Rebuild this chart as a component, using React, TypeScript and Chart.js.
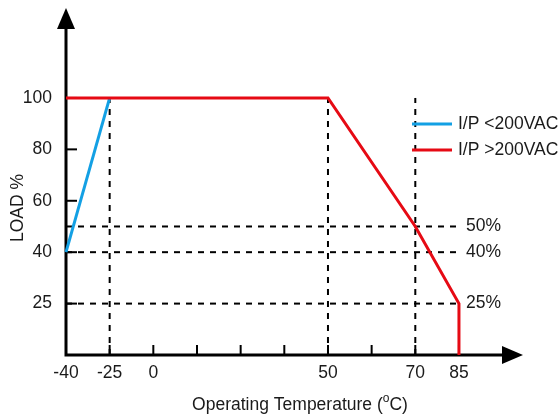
import React, { useEffect, useRef } from 'react';
import { Chart, registerables, LinearScale } from 'chart.js';

// ---- data ----
const xTickValues = [-40, -25, 0, 50, 70, 85];
const xTickMarks = [-25, 0, 12.5, 25, 37.5, 50, 60, 70, 85];
const yTickValues = [25, 40, 60, 80, 100];
// equally spaced slots on each (non-linear) axis of the schematic
const xBreaks = [-40, -25, 0, 12.5, 25, 37.5, 50, 60, 70, 85, 100];
const yBreaks = [0, 25, 40, 60, 80, 100, 120];

const lowTemp = [-40, -25];
const lowLoad = [40, 100];
const highTemp = [-40, 50, 70, 85, 85];
const highLoad = [100, 100, 50, 25, 0];

const vGuides = [-25, 50, 70];
const hGuides = [50, 40, 25];
const guideLabels = ['50%', '40%', '25%'];
const seriesNames = ['I/P <200VAC', 'I/P >200VAC'];
const seriesColors = ['#13A0E4', '#E60A14'];

const FONT = '"Liberation Sans", Arial, sans-serif';
const FS = 17.5;
const TEXT = '#1a1a1a';

const BREAKS: Record<string, number[]> = { x: xBreaks, y: yBreaks };

function toSlot(v: number, b: number[]): number {
  if (v <= b[0]) return (v - b[0]) / (b[1] - b[0]);
  for (let i = 0; i < b.length - 1; i++) {
    if (v <= b[i + 1]) return i + (v - b[i]) / (b[i + 1] - b[i]);
  }
  const n = b.length - 1;
  return n + (v - b[n]) / (b[n] - b[n - 1]);
}
function fromSlot(s: number, b: number[]): number {
  const n = b.length - 1;
  if (s <= 0) return b[0] + s * (b[1] - b[0]);
  if (s >= n) return b[n] + (s - n) * (b[n] - b[n - 1]);
  const i = Math.floor(s);
  return b[i] + (s - i) * (b[i + 1] - b[i]);
}

class PiecewiseScale extends LinearScale {
  static id = 'piecewise';
  static defaults = LinearScale.defaults;
  getPixelForValue(value: number) {
    const self: any = this;
    const b = BREAKS[self.axis];
    const s0 = toSlot(self.min, b);
    const s1 = toSlot(self.max, b);
    return self.getPixelForDecimal((toSlot(value, b) - s0) / (s1 - s0));
  }
  getValueForPixel(pixel: number) {
    const self: any = this;
    const b = BREAKS[self.axis];
    const s0 = toSlot(self.min, b);
    const s1 = toSlot(self.max, b);
    return fromSlot(s0 + self.getDecimalForPixel(pixel) * (s1 - s0), b);
  }
}

Chart.register(...registerables, PiecewiseScale as any);

const decor = {
  id: 'decor',
  beforeDatasetsDraw(chart: any) {
    const { ctx, scales } = chart;
    const xs = scales.x;
    const ys = scales.y;
    const X = (v: number) => xs.getPixelForValue(v);
    const Y = (v: number) => ys.getPixelForValue(v);
    const x0 = X(-40);
    const y0 = Y(0);
    ctx.save();
    ctx.strokeStyle = '#000';
    ctx.lineWidth = 2;
    ctx.setLineDash([6, 6]);
    vGuides.forEach((v) => {
      ctx.beginPath();
      ctx.moveTo(X(v), y0);
      ctx.lineTo(X(v), Y(100));
      ctx.stroke();
    });
    hGuides.forEach((v) => {
      ctx.beginPath();
      ctx.moveTo(x0, Y(v));
      ctx.lineTo(X(85), Y(v));
      ctx.stroke();
    });
    ctx.setLineDash([]);
    // tick marks
    ctx.lineWidth = 2;
    yTickValues.forEach((v) => {
      ctx.beginPath();
      ctx.moveTo(x0, Y(v));
      ctx.lineTo(x0 + 11, Y(v));
      ctx.stroke();
    });
    xTickMarks.forEach((v) => {
      ctx.beginPath();
      ctx.moveTo(X(v), y0);
      ctx.lineTo(X(v), y0 - 10);
      ctx.stroke();
    });
    // axes
    ctx.lineWidth = 3;
    ctx.beginPath();
    ctx.moveTo(x0, y0 + 1.5);
    ctx.lineTo(x0, ys.top + 18);
    ctx.moveTo(x0 - 1.5, y0);
    ctx.lineTo(xs.right - 18, y0);
    ctx.stroke();
    ctx.fillStyle = '#000';
    ctx.beginPath();
    ctx.moveTo(x0, ys.top);
    ctx.lineTo(x0 + 9, ys.top + 21);
    ctx.lineTo(x0 - 9, ys.top + 21);
    ctx.closePath();
    ctx.fill();
    ctx.beginPath();
    ctx.moveTo(xs.right, y0);
    ctx.lineTo(xs.right - 21, y0 - 9);
    ctx.lineTo(xs.right - 21, y0 + 9);
    ctx.closePath();
    ctx.fill();
    ctx.restore();
  },
  afterDraw(chart: any) {
    const { ctx, scales } = chart;
    const xs = scales.x;
    const ys = scales.y;
    const X = (v: number) => xs.getPixelForValue(v);
    const Y = (v: number) => ys.getPixelForValue(v);
    ctx.save();
    ctx.fillStyle = TEXT;
    ctx.font = `${FS}px ${FONT}`;
    ctx.textBaseline = 'middle';
    ctx.textAlign = 'left';
    hGuides.forEach((v, i) => {
      ctx.fillText(guideLabels[i], X(85) + 7, Y(v));
    });
    // legend
    const legY = [124, 150];
    seriesNames.forEach((name, i) => {
      ctx.strokeStyle = seriesColors[i];
      ctx.lineWidth = 3;
      ctx.beginPath();
      ctx.moveTo(412, legY[i]);
      ctx.lineTo(452, legY[i]);
      ctx.stroke();
      ctx.fillStyle = TEXT;
      ctx.fillText(name, 458, legY[i]);
    });
    // y title
    ctx.save();
    ctx.translate(18, 208);
    ctx.rotate(-Math.PI / 2);
    ctx.textAlign = 'center';
    ctx.fillText('LOAD %', 0, 0);
    ctx.restore();
    // x title with superscript o
    const p1 = 'Operating Temperature (';
    const sup = 'o';
    const p2 = 'C)';
    ctx.font = `${FS}px ${FONT}`;
    const w1 = ctx.measureText(p1).width;
    const w3 = ctx.measureText(p2).width;
    ctx.font = `12px ${FONT}`;
    const w2 = ctx.measureText(sup).width;
    const total = w1 + w2 + w3;
    let sx = 300 - total / 2;
    const ty = 405;
    ctx.textAlign = 'left';
    ctx.font = `${FS}px ${FONT}`;
    ctx.fillText(p1, sx, ty);
    sx += w1;
    ctx.font = `12px ${FONT}`;
    ctx.fillText(sup, sx, ty - 6);
    sx += w2;
    ctx.font = `${FS}px ${FONT}`;
    ctx.fillText(p2, sx, ty);
    ctx.restore();
  },
};

export default function App() {
  const ref = useRef<HTMLCanvasElement | null>(null);
  useEffect(() => {
    if (!ref.current) return;
    const chart = new Chart(ref.current, {
      type: 'line',
      data: {
        datasets: [
          {
            label: seriesNames[0],
            data: lowTemp.map((t, i) => ({ x: t, y: lowLoad[i] })),
            borderColor: seriesColors[0],
            borderWidth: 3,
            pointRadius: 0,
            tension: 0,
            fill: false,
            clip: false as any,
            order: 2,
          },
          {
            label: seriesNames[1],
            data: highTemp.map((t, i) => ({ x: t, y: highLoad[i] })),
            borderColor: seriesColors[1],
            borderWidth: 3,
            pointRadius: 0,
            tension: 0,
            fill: false,
            clip: false as any,
            order: 1,
          },
        ],
      },
      options: {
        animation: false,
        responsive: false,
        layout: { padding: { top: 8, right: 36, left: 0, bottom: 0 } },
        plugins: { legend: { display: false }, tooltip: { enabled: false } },
        events: [],
        scales: {
          x: {
            type: 'piecewise' as any,
            min: -40,
            max: 107,
            border: { display: false },
            grid: { display: false, drawTicks: false },
            afterBuildTicks: (s: any) => {
              s.ticks = xTickValues.map((v) => ({ value: v }));
            },
            afterFit: (s: any) => {
              s.height = 62;
              s.paddingLeft = 0;
              s.paddingRight = 0;
            },
            ticks: {
              autoSkip: false,
              maxRotation: 0,
              color: TEXT,
              padding: 8,
              font: { size: FS, family: FONT },
              callback: (v: any) => String(v),
            },
          } as any,
          y: {
            type: 'piecewise' as any,
            min: 0,
            max: 135,
            border: { display: false },
            grid: { display: false, drawTicks: false },
            afterBuildTicks: (s: any) => {
              s.ticks = yTickValues.map((v) => ({ value: v }));
            },
            afterFit: (s: any) => {
              s.width = 66;
              s.paddingTop = 0;
              s.paddingBottom = 0;
            },
            ticks: {
              autoSkip: false,
              color: TEXT,
              padding: 14,
              font: { size: FS, family: FONT },
              callback: (v: any) => String(v),
            },
          } as any,
        },
      },
      plugins: [decor],
    });
    return () => chart.destroy();
  }, []);
  return (
    <div style={{ position: 'absolute', left: 0, top: 0, width: 559, height: 417, background: '#fff' }}>
      <canvas ref={ref} width={559} height={417} style={{ width: 559, height: 417 }} />
    </div>
  );
}
